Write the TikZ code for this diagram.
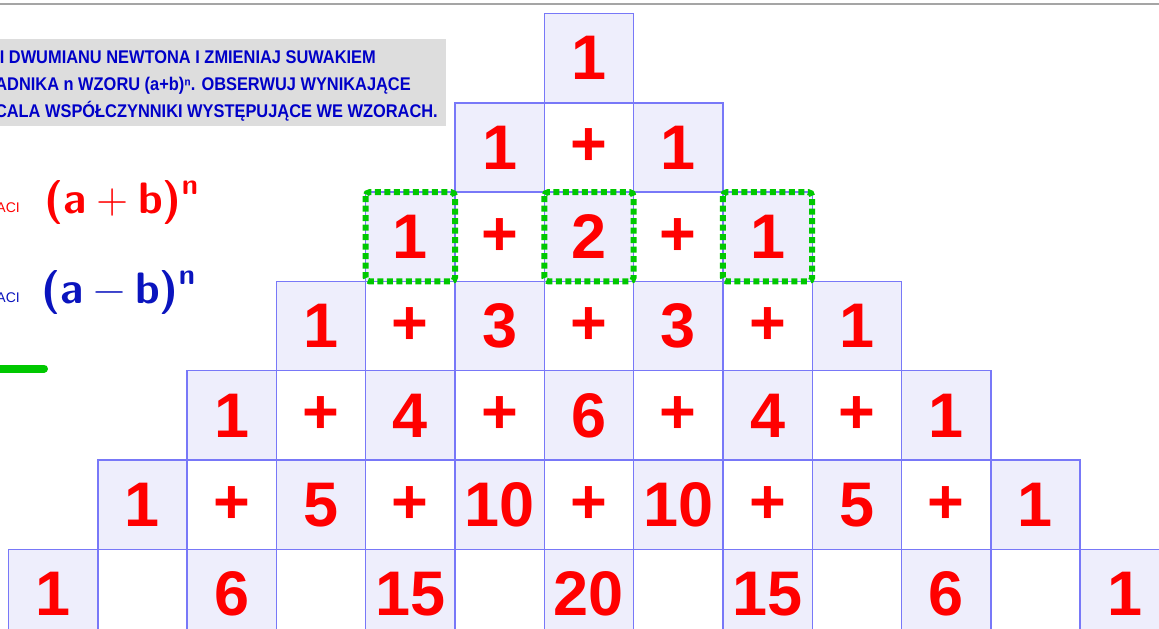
\documentclass[tikz,border=0pt]{standalone}
\usepackage{fontspec}
\setmainfont{Liberation Sans}
\definecolor{cellfill}{RGB}{238,238,252}
\definecolor{cellline}{RGB}{120,120,248}
\definecolor{numred}{RGB}{255,0,0}
\definecolor{txtblue}{RGB}{0,0,200}
\definecolor{fblue}{RGB}{10,20,190}
\definecolor{dotgreen}{RGB}{0,200,0}
\definecolor{boxgray}{RGB}{221,221,221}
\definecolor{topgray}{RGB}{165,165,165}
\newcommand\pascalrow[2]{%
  \foreach \k/\lbl in {#2}{%
    \ifodd\k\relax \def\fc{white}\else \def\fc{cellfill}\fi
    \node[cell, fill=\fc] (c-#1-\k) at ({588.95+(\k-#1)*89.3}, {58.15+#1*89.3}) {\lbl};
  }}
\newcommand\tallbold[1]{\scalebox{1}[1.12]{#1}}
\begin{document}
\begin{tikzpicture}[x=1pt,y=-1pt,
  cell/.style={minimum width=89.3pt, minimum height=89.3pt, inner sep=0pt, outer sep=0pt,
    text=numred, font=\fontsize{63}{63}\selectfont\bfseries},
  cellborder/.style={draw=cellline, line width=1.4pt},
  greendot/.style={draw=dotgreen, line width=6pt, dash pattern=on 6pt off 3.5pt, rounded corners=4pt},
  infotext/.style={anchor=base east, inner sep=0pt, text=txtblue, font=\fontsize{16.4}{16.4}\selectfont\bfseries},
  small/.style={anchor=base east, inner sep=0pt, font=\fontsize{14}{14}\selectfont},
  formula/.style={anchor=base west, inner sep=0pt, font=\sffamily\bfseries\fontsize{44}{44}\selectfont}
]
\useasboundingbox (0,0) rectangle (1159,629);
\clip (0,0) rectangle (1159,629);
\fill[white] (0,0) rectangle (1159,629);
\draw[topgray, line width=2pt] (0,3.5) -- (1159,3.5);

% info box
\fill[boxgray] (-5,39) rectangle (446,126);
\node[infotext] (info1) at (376,63) {\tallbold{I DWUMIANU NEWTONA I ZMIENIAJ SUWAKIEM}};
\node[infotext] (info2) at (411,90) {\tallbold{ADNIKA n WZORU (a+b)ⁿ. OBSERWUJ WYNIKAJĄCE}};
\node[infotext] (info3) at (438,117) {\tallbold{CALA WSPÓŁCZYNNIKI WYSTĘPUJĄCE WE WZORACH.}};

% formulas
\node[small, text=numred] (aci1) at (20,212) {ACI};
\node[formula, text=numred] (fplus) at (44,213) {(a\hspace{10pt}{\mdseries +}\hspace{10pt}b)\raisebox{19pt}{\fontsize{29}{29}\selectfont n}};
\node[small, text=fblue] (aci2) at (20,302) {ACI};
\node[formula, text=fblue] (fminus) at (41,303) {(a\hspace{10pt}{\mdseries −}\hspace{10pt}b)\raisebox{19pt}{\fontsize{29}{29}\selectfont n}};

\draw[dotgreen, line width=8pt, line cap=round] (-10,368.5) -- (44,368.5);

% Pascal triangle
\pascalrow{0}{0/1}
\pascalrow{1}{0/1,1/+,2/1}
\pascalrow{2}{0/1,1/+,2/2,3/+,4/1}
\pascalrow{3}{0/1,1/+,2/3,3/+,4/3,5/+,6/1}
\pascalrow{4}{0/1,1/+,2/4,3/+,4/6,5/+,6/4,7/+,8/1}
\pascalrow{5}{0/1,1/+,2/5,3/+,4/10,5/+,6/10,7/+,8/5,9/+,10/1}
\pascalrow{6}{0/1,1/{},2/6,3/{},4/15,5/{},6/20,7/{},8/15,9/{},10/6,11/{},12/1}
\foreach \r in {0,...,6}{%
  \pgfmathtruncatemacro\nk{2*\r}%
  \foreach \k in {0,...,\nk}{%
    \draw[cellborder] (c-\r-\k.north west) rectangle (c-\r-\k.south east);
  }}

% highlighted terms
\draw[greendot] (c-2-0.north west) rectangle (c-2-0.south east);
\draw[greendot] (c-2-2.north west) rectangle (c-2-2.south east);
\draw[greendot] (c-2-4.north west) rectangle (c-2-4.south east);
\end{tikzpicture}
\end{document}
